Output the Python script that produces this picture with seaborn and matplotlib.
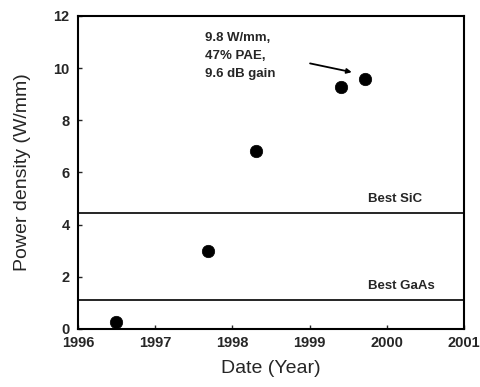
import numpy as np
import pandas as pd
import matplotlib
matplotlib.use("Agg")
import matplotlib.pyplot as plt
import seaborn as sns

sns.set_theme(style="ticks")
plt.rcParams['font.family'] = ['Liberation Sans', 'DejaVu Sans']

# data
years = [1996.49, 1997.69, 1998.31, 1999.40, 1999.72]
power = [0.26, 3.0, 6.81, 9.29, 9.57]
best_sic = 4.44
best_gaas = 1.11
x_ticks = [1996, 1997, 1998, 1999, 2000, 2001]
y_ticks = [0, 2, 4, 6, 8, 10, 12]

df = pd.DataFrame({'year': years, 'power': power})

fig = plt.figure(figsize=(4.81, 3.87), dpi=100)
ax = fig.add_axes([0.162, 0.150, 0.803, 0.809])

sns.scatterplot(data=df, x='year', y='power', ax=ax, color='black',
                s=80, edgecolor='black', linewidth=0.5, legend=False, zorder=3)

ax.axhline(best_sic, color='black', lw=1.2)
ax.axhline(best_gaas, color='black', lw=1.2)
ax.text(1999.75, best_sic + 0.3, 'Best SiC', fontsize=9.5, fontweight='bold',
        ha='left', va='bottom')
ax.text(1999.75, best_gaas + 0.3, 'Best GaAs', fontsize=9.5, fontweight='bold',
        ha='left', va='bottom')

ax.text(1997.65, 10.45, '9.8 W/mm,\n47% PAE,\n9.6 dB gain', fontsize=9.5,
        fontweight='bold', ha='left', va='center', linespacing=1.65)
ax.annotate('', xy=(1999.58, 9.82), xytext=(1998.97, 10.2),
            arrowprops=dict(arrowstyle='-|>', color='black', lw=1.3,
                            mutation_scale=7))

ax.set_xlim(1996, 2001)
ax.set_ylim(0, 12)
ax.set_xticks(x_ticks)
ax.set_yticks(y_ticks)
ax.set_xticklabels([str(t) for t in x_ticks], fontsize=10.5, fontweight='bold')
ax.set_yticklabels([str(t) for t in y_ticks], fontsize=10.5, fontweight='bold')
ax.tick_params(direction='in', length=3, width=1)
ax.tick_params(axis='x', pad=5)
ax.tick_params(axis='y', pad=6)
ax.set_xlabel('Date (Year)', fontsize=14, labelpad=7)
ax.set_ylabel('Power density (W/mm)', fontsize=14, labelpad=16)
for sp in ax.spines.values():
    sp.set_linewidth(1.5)
    sp.set_color('black')

fig.savefig('out.png', dpi=100)
